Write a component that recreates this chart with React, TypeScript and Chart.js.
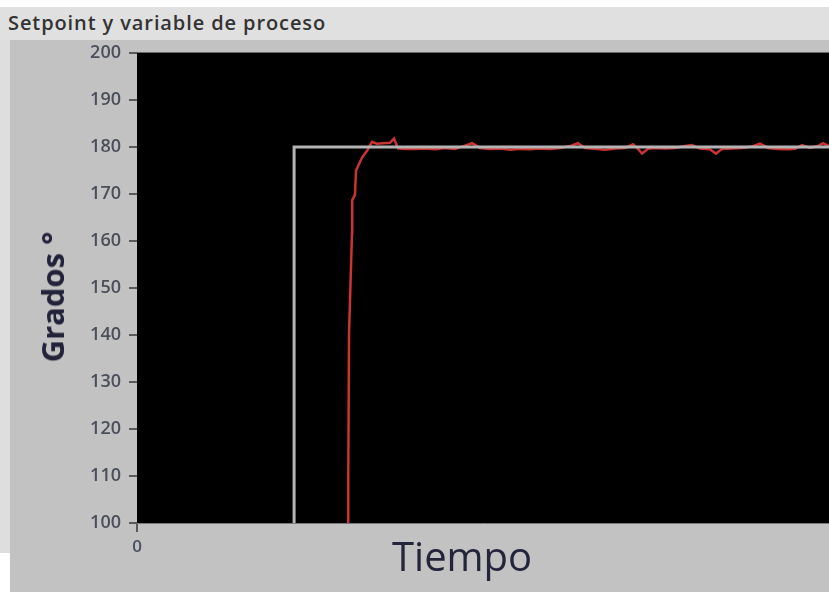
import React, { useEffect, useRef } from "react";
import { Chart, registerables } from "chart.js";

Chart.register(...registerables);

const chartTitle = "Setpoint y variable de proceso";
const xAxisTitle = "Tiempo";
const yAxisTitle = "Grados °";

const yTicks = [100, 110, 120, 130, 140, 150, 160, 170, 180, 190, 200];
const xTickLabels = [0];

const setpointTime = [22.7, 22.7, 100];
const setpointValue = [95, 180, 180];

const processTime = [
  30.5, 30.53, 30.64, 31.07, 31.1, 31.5, 31.65, 32.5, 33.24, 33.96, 34.68, 35.55,
  36.56, 37.14, 37.72, 38.73, 40.17, 41.62, 43.06, 44.51, 45.95, 47.4, 48.41,
  49.57, 51.01, 52.46, 53.9, 55.35, 56.79, 58.24, 59.68, 61.13, 62.57, 63.73,
  64.74, 66.18, 67.63, 69.08, 70.52, 71.68, 72.4, 72.98, 73.84, 74.86, 76.3,
  77.75, 79.19, 80.2, 81.36, 82.8, 83.67, 84.54, 85.98, 87.43, 88.87, 90.03,
  91.18, 92.63, 94.08, 95.09, 96.1, 97.25, 98.41, 99.13, 100,
];
const processValue = [
  95, 109.6, 140.4, 161.7, 168.7, 169.8, 175, 177.7, 179.2, 181.1, 180.7, 180.8,
  180.9, 181.8, 179.7, 179.6, 179.6, 179.7, 179.5, 179.8, 179.6, 180.3, 180.8,
  179.8, 179.6, 179.7, 179.4, 179.6, 179.5, 179.7, 179.6, 179.8, 180.2, 180.8,
  179.8, 179.6, 179.4, 179.7, 179.8, 180.6, 179.6, 178.6, 179.6, 179.8, 179.7,
  179.8, 180.2, 180.4, 179.7, 179.5, 178.6, 179.6, 179.7, 179.8, 180.1, 180.7,
  179.8, 179.6, 179.5, 179.6, 180.4, 179.8, 180.2, 180.8, 180.2,
];

const plotBackground = {
  id: "plotBackground",
  beforeDatasetsDraw(chart: any) {
    const { ctx, chartArea } = chart;
    ctx.save();
    ctx.fillStyle = "#000000";
    ctx.fillRect(chartArea.left, chartArea.top, chartArea.right - chartArea.left, chartArea.bottom - chartArea.top);
    ctx.strokeStyle = "#6a6a6a";
    ctx.lineWidth = 1;
    ctx.beginPath();
    ctx.moveTo(chartArea.left, chartArea.top - 0.5);
    ctx.lineTo(chartArea.right, chartArea.top - 0.5);
    ctx.stroke();
    ctx.restore();
  },
};

export default function App() {
  const canvasRef = useRef<HTMLCanvasElement | null>(null);

  useEffect(() => {
    if (!canvasRef.current) return;
    const chart = new Chart(canvasRef.current, {
      type: "line",
      data: {
        datasets: [
          {
            label: "Setpoint",
            data: setpointTime.map((t, i) => ({ x: t, y: setpointValue[i] })),
            borderColor: "#b4b4b4",
            borderWidth: 3,
            pointRadius: 0,
            tension: 0,
            fill: false,
            clip: 0,
          },
          {
            label: "Variable de proceso",
            data: processTime.map((t, i) => ({ x: t, y: processValue[i] })),
            borderColor: "#cc3333",
            borderWidth: 2.5,
            pointRadius: 0,
            tension: 0,
            fill: false,
            clip: 0,
          },
        ],
      },
      options: {
        animation: false,
        responsive: false,
        devicePixelRatio: 1,
        layout: { padding: { top: 53, left: 0, right: 0, bottom: 0 } },
        plugins: {
          legend: { display: false },
          tooltip: { enabled: false },
        },
        scales: {
          x: {
            type: "linear",
            min: 0,
            max: 100,
            afterBuildTicks: (s: any) => {
              s.ticks = xTickLabels.map((v) => ({ value: v }));
            },
            afterFit: (s: any) => {
              s.height = 69;
            },
            grid: { drawOnChartArea: false, drawTicks: true, tickLength: 9, color: "#5a5a5a", lineWidth: 2 },
            border: { display: true, color: "#7a7a7a", width: 1 },
            ticks: {
              color: "#4a5060",
              padding: 5,
              font: { family: "'Open Sans'", size: 17, weight: "600" },
              maxRotation: 0,
            },
          },
          y: {
            type: "linear",
            min: 100,
            max: 200,
            afterBuildTicks: (s: any) => {
              s.ticks = yTicks.map((v) => ({ value: v }));
            },
            afterFit: (s: any) => {
              s.width = 137;
            },
            grid: { drawOnChartArea: false, drawTicks: true, tickLength: 8, color: "#5a5a5a", lineWidth: 2 },
            border: { display: true, color: "#8a8a8a", width: 1 },
            ticks: {
              color: "#4a4f5a",
              padding: 8,
              font: { family: "'Open Sans'", size: 18, weight: "600" },
            },
          },
        },
      },
      plugins: [plotBackground],
    } as any);
    return () => chart.destroy();
  }, []);

  return (
    <div
      style={{
        position: "fixed",
        left: 0,
        top: 0,
        width: 829,
        height: 592,
        background: "#ffffff",
        overflow: "hidden",
      }}
    >
      <div style={{ position: "absolute", left: 0, top: 7, width: 829, height: 33, background: "#e0e0e0" }} />
      <div style={{ position: "absolute", left: 0, top: 40, width: 10, height: 513, background: "#dedede" }} />
      <div style={{ position: "absolute", left: 10, top: 40, width: 819, height: 552, background: "#c2c2c2" }} />
      <div
        style={{
          position: "absolute",
          left: 8,
          top: 11,
          fontFamily: "'Open Sans', sans-serif",
          fontWeight: 600,
          fontSize: 20,
          letterSpacing: 0.9,
          lineHeight: "24px",
          color: "#333333",
          whiteSpace: "nowrap",
        }}
      >
        {chartTitle}
      </div>
      <canvas
        ref={canvasRef}
        width={829}
        height={592}
        style={{ position: "absolute", left: 0, top: 0, width: 829, height: 592 }}
      />
      <div
        style={{
          position: "absolute",
          left: 52,
          top: 297,
          width: 0,
          height: 0,
        }}
      >
        <div
          style={{
            position: "absolute",
            left: 0,
            top: 0,
            transform: "translate(-50%, -50%) rotate(-90deg)",
            fontFamily: "'Open Sans', sans-serif",
            fontWeight: 700,
            fontSize: 31,
            lineHeight: "36px",
            color: "#22223a",
            whiteSpace: "nowrap",
          }}
        >
          {yAxisTitle}
        </div>
      </div>
      <div
        style={{
          position: "absolute",
          left: 392,
          top: 532,
          fontFamily: "'Open Sans', sans-serif",
          fontSize: 40,
          lineHeight: "48px",
          color: "#24243a",
          whiteSpace: "nowrap",
        }}
      >
        {xAxisTitle}
      </div>
    </div>
  );
}
